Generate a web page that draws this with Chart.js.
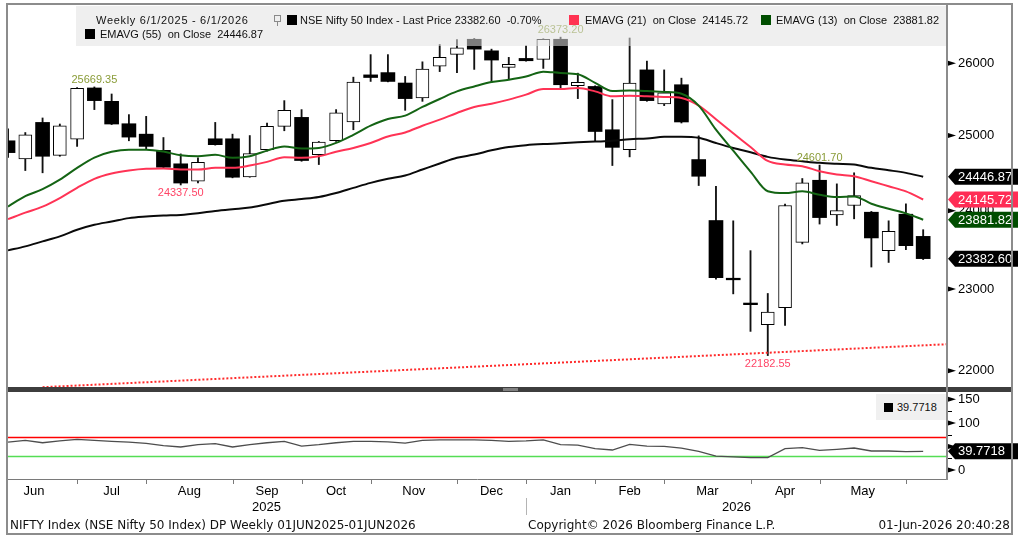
<!DOCTYPE html>
<html>
<head>
<meta charset="utf-8">
<title>NIFTY Index weekly</title>
<script src="https://cdn.jsdelivr.net/npm/chart.js@4.4.1/dist/chart.umd.min.js"></script>
<style>
  html, body { margin: 0; padding: 0; background: #fff; }
  #wrap { position: relative; width: 1023px; height: 537px; overflow: hidden; color: #111;
          font-family: "Liberation Sans", sans-serif; font-size: 11px; }
  #wrap canvas { position: absolute; left: 0; }
  .abs { position: absolute; }
  .txt { position: absolute; white-space: pre; line-height: 12px; }
  .sq { position: absolute; width: 10px; height: 10px; }
  .foot { position: absolute; white-space: pre; line-height: 14px; top: 518px;
          font-family: "DejaVu Sans", sans-serif; font-size: 12px; color: #111; }
</style>
</head>
<body>
<div id="wrap">
  <canvas id="priceChart" width="1023" height="387" style="top:0"></canvas>
  <canvas id="rsiChart" width="1023" height="145" style="top:392px"></canvas>

  <!-- legend of the price panel -->
  <div class="abs" style="left:76px;top:6px;width:871px;height:40px;background:rgba(226,226,226,0.55)"></div>
  <span class="txt" style="left:96px;top:14px;letter-spacing:0.7px">Weekly 6/1/2025 - 6/1/2026</span>
  <span class="abs" style="left:274px;top:15px;width:5px;height:5px;border:1px solid #8a8a8a"></span>
  <span class="abs" style="left:277px;top:22px;width:1px;height:4px;background:#8a8a8a"></span>
  <span class="sq" style="left:287px;top:15px;background:#000"></span>
  <span class="txt" id="lgPrice" style="left:300px;top:14px"></span>
  <span class="sq" style="left:569px;top:15px;background:#ff3352"></span>
  <span class="txt" id="lg21" style="left:585px;top:14px"></span>
  <span class="sq" style="left:761px;top:15px;background:#004d00"></span>
  <span class="txt" id="lg13" style="left:776px;top:14px"></span>
  <span class="sq" style="left:85px;top:29px;background:#000"></span>
  <span class="txt" id="lg55" style="left:100px;top:28px"></span>

  <!-- legend of the oscillator panel -->
  <div class="abs" style="left:876px;top:394px;width:70px;height:26px;background:#f0f0f0"></div>
  <span class="abs" style="left:884px;top:403px;width:9px;height:9px;background:#000"></span>
  <span class="txt" id="lgRsi" style="left:897px;top:401px"></span>

  <!-- panel frame -->
  <div class="abs" style="left:7px;top:387px;width:1005px;height:5px;background:#3d3d3d"></div>
  <div class="abs" style="left:503px;top:388px;width:15px;height:3px;background:#808080"></div>
  <div class="abs" style="left:946px;top:3px;width:2px;height:477px;background:#8c8c8c"></div>
  <div class="abs" style="left:6px;top:3px;width:1007px;height:532px;border:2px solid #8c8c8c;box-sizing:border-box"></div>

  <span class="foot" style="left:10px">NIFTY Index (NSE Nifty 50 Index) DP Weekly 01JUN2025-01JUN2026</span>
  <span class="foot" style="left:528px">Copyright© 2026 Bloomberg Finance L.P.</span>
  <span class="foot" style="right:13px">01-Jun-2026 20:40:28</span>
</div>

<script>
// Weekly candles, index 0 = first week on screen (early Jun 2025)
const monthNames = ['Jun', 'Jul', 'Aug', 'Sep', 'Oct', 'Nov', 'Dec', 'Jan', 'Feb', 'Mar', 'Apr', 'May'];
const monthStarts = [-1, 4, 8, 13, 17, 21, 26, 30, 34, 38, 43, 47, 52];
const yearNames = ['2025', '2026'];
const yearBreak = 30;

const priceTicks = [22000, 23000, 24000, 25000, 26000];
const rsiTicks = [0, 50, 100, 150];
const rsiMinorTicks = [25, 75, 125];
const rsiLevels = [70, 30];

const opens = [24929, 24685, 25179, 24733, 24952, 25655, 25469, 25161, 25019, 24800,
  24619, 24387, 24956, 24956, 24445, 24809, 25124, 25248, 24743, 24929,
  25185, 25838, 25870, 25724, 25517, 25962, 26127, 26343, 26178, 25944,
  26070, 26056, 26343, 25686, 25676, 25079, 24809, 25908, 25434, 25700,
  24676, 23872, 23135, 22825, 22557, 22768, 23590, 24400, 23945, 24067,
  23980, 23484, 23954, 23667];
const highs = [25092, 25041, 25240, 25157, 25660, 25669.35, 25571, 25286, 25262, 24973,
  24752, 24699, 25179, 25019, 25000, 25171, 25479, 25355, 24920, 25355,
  25806, 26124, 26124, 25816, 26022, 26268, 26338, 26355, 26202, 26085,
  26248, 26350, 26373.20, 25862, 25685, 25493, 26361, 26032, 25908, 25792,
  24996, 24320, 23868, 23484, 22944, 24085, 24423, 24601.70, 24352, 24499,
  23990, 23868, 24089, 23753];
const lows = [24703, 24529, 24499, 24720, 24853, 25355, 25150, 24929, 24819, 24560,
  24337.50, 24365, 24870, 24432, 24440, 24787, 25065, 24653, 24609, 24920,
  25079, 25746, 25740, 25345, 25469, 25884, 25870, 25915, 25732, 25770,
  26030, 25929, 25645, 25507, 24920, 24596, 24712, 25470, 25410, 25171,
  24330, 23122, 22939, 22476, 22182.55, 22549, 23570, 23826, 23808, 23894,
  23276, 23334, 23497, 23371];
const closes = [24769, 25010, 24720, 25134, 25650, 25479, 25157, 24979, 24853, 24573,
  24363, 24640, 24876, 24440, 24756, 25124, 25345, 24663, 24912, 25309,
  25737, 25801, 25746, 25507, 25921, 26085, 26220, 26202, 26047, 25986,
  26037, 26343, 25700, 25732, 25055, 24840, 25724, 25479, 25586, 25185,
  24453, 23142, 23115, 22805, 22712, 24067, 24365, 23910, 24000, 24196,
  23647, 23731, 23548, 23382.60];

const ema13 = [24054, 24190, 24282, 24407, 24565, 24703, 24780, 24809, 24809, 24783,
  24733, 24720, 24739, 24699, 24721, 24796, 24853, 24823, 24832, 24900,
  25010, 25134, 25226, 25272, 25392, 25502, 25607, 25676, 25737, 25769,
  25814, 25883, 25865, 25847, 25727, 25612, 25619, 25612, 25600, 25575,
  25410, 25080, 24795, 24515, 24255, 24230, 24253, 24209, 24179, 24187,
  24090, 24025, 23965, 23881.82];
const ema21 = [23890, 23974, 24053, 24165, 24299, 24419, 24489, 24529, 24552, 24556,
  24543, 24543, 24565, 24565, 24596, 24645, 24707, 24699, 24720, 24780,
  24832, 24899, 24987, 25041, 25134, 25217, 25309, 25392, 25437, 25493,
  25562, 25640, 25640, 25654, 25607, 25538, 25548, 25538, 25530, 25516,
  25410, 25222, 25030, 24845, 24657, 24609, 24587, 24520, 24476, 24453,
  24387, 24320, 24253, 24145.72];
const ema55 = [23488, 23539, 23603, 23667, 23753, 23817, 23859, 23903, 23923, 23936,
  23945, 23967, 23996, 24019, 24040, 24085, 24129, 24152, 24179, 24232,
  24299, 24365, 24419, 24463, 24543, 24623, 24699, 24743, 24800, 24845,
  24870, 24885, 24895, 24908, 24918, 24928, 24950, 24960, 24982, 24985,
  24970, 24899, 24832, 24773, 24712, 24676, 24653, 24632, 24619, 24609,
  24565, 24533, 24498, 24446.87];

const rsi = [59.4, 62.9, 58.0, 62.0, 65.0, 63.0, 61.0, 59.4, 56.6, 51.7,
  49.0, 54.0, 56.0, 49.0, 54.0, 58.0, 61.0, 51.0, 54.0, 58.0,
  61.0, 61.0, 60.0, 57.0, 63.0, 64.0, 64.0, 64.0, 63.0, 61.0,
  62.0, 64.0, 54.0, 53.0, 45.4, 42.6, 54.5, 51.0, 50.3, 46.8,
  39.8, 29.4, 27.9, 26.6, 26.6, 45.4, 47.5, 41.9, 44.0, 46.8,
  40.5, 40.5, 39.1, 39.7718];

const highMarks = [5, 32, 47];
const lowMarks = [10, 44];
const trendLine = [{ x: 2, y: 21805 }, { x: 54.4, y: 22320 }];

// visible window
const xMin = -0.06, xMax = 54.38;
const priceMin = 21807, priceMax = 26838;
const rsiMin = -18.9, rsiMax = 163.5;

const last = a => a[a.length - 1];
const xy = arr => arr.map((v, i) => ({ x: i, y: v }));
const weeks = closes.map((_, i) => i);
const downBodies = weeks.filter(i => closes[i] < opens[i]).map(i => ({ x: i, y: [opens[i], closes[i]] }));
const upBodies = weeks.filter(i => closes[i] >= opens[i]).map(i => ({ x: i, y: [opens[i], closes[i]] }));
const wicks = weeks.map(i => ({ x: i, y: [lows[i], highs[i]] }));

// legend texts
const chg = (last(closes) / closes[closes.length - 2] - 1) * 100;
document.getElementById('lgPrice').textContent =
  'NSE Nifty 50 Index - Last Price ' + last(closes).toFixed(2) + '  ' + chg.toFixed(2) + '%';
document.getElementById('lg21').textContent = 'EMAVG (21)  on Close  ' + last(ema21).toFixed(2);
document.getElementById('lg13').textContent = 'EMAVG (13)  on Close  ' + last(ema13).toFixed(2);
document.getElementById('lg55').textContent = 'EMAVG (55)  on Close  ' + last(ema55).toFixed(2);
document.getElementById('lgRsi').textContent = last(rsi).toFixed(4);

const axisFont = { family: 'Liberation Sans', size: 13 };

// keep the plot area exactly where the layout padding puts it
function fixYAxis(s) {
  s.width = 76;
  s.paddingTop = 0;
  s.paddingBottom = 0;
}

function arrowMark(ctx, x, y) {
  ctx.beginPath();
  ctx.moveTo(x, y - 2.5);
  ctx.lineTo(x + 8, y);
  ctx.lineTo(x, y + 2.5);
  ctx.closePath();
  ctx.fill();
}

function drawTag(ctx, x, y, text, bg) {
  const h = 16;
  ctx.beginPath();
  ctx.moveTo(x, y);
  ctx.lineTo(x + 7, y - h / 2);
  ctx.lineTo(x + 70, y - h / 2);
  ctx.lineTo(x + 70, y + h / 2);
  ctx.lineTo(x + 7, y + h / 2);
  ctx.closePath();
  ctx.fillStyle = bg;
  ctx.fill();
  ctx.fillStyle = '#fff';
  ctx.font = '13px "Liberation Sans"';
  ctx.textAlign = 'left';
  ctx.textBaseline = 'middle';
  ctx.fillText(text, x + 10, y + 0.5);
}

const priceDecor = {
  id: 'priceDecor',
  afterDatasetsDraw(chart) {
    const { ctx, scales: { x, y } } = chart;
    ctx.save();
    ctx.font = '11px "Liberation Sans"';
    ctx.textAlign = 'center';
    ctx.textBaseline = 'middle';
    ctx.fillStyle = '#8a9c38';
    highMarks.forEach(i => ctx.fillText(highs[i].toFixed(2), x.getPixelForValue(i), y.getPixelForValue(highs[i]) - 7));
    ctx.fillStyle = '#ff4466';
    lowMarks.forEach(i => ctx.fillText(lows[i].toFixed(2), x.getPixelForValue(i), y.getPixelForValue(lows[i]) + 8));
    ctx.restore();
  },
  afterDraw(chart) {
    const { ctx, chartArea, scales: { y } } = chart;
    ctx.save();
    ctx.fillStyle = '#000';
    priceTicks.forEach(v => arrowMark(ctx, chartArea.right + 1, y.getPixelForValue(v)));
    const tags = [
      { v: last(ema55), bg: '#000' },
      { v: last(ema21), bg: '#ff2d55' },
      { v: last(ema13), bg: '#004d00' },
      { v: last(closes), bg: '#000' }
    ];
    tags.forEach(t => drawTag(ctx, chartArea.right + 1, y.getPixelForValue(t.v), t.v.toFixed(2), t.bg));
    ctx.restore();
  }
};

const rsiDecor = {
  id: 'rsiDecor',
  beforeDatasetsDraw(chart) {
    const { ctx, chartArea: a, scales: { y } } = chart;
    const colors = ['#ff0000', '#55dd55'];
    ctx.save();
    ctx.setLineDash([]);
    rsiLevels.forEach((lvl, k) => {
      const py = Math.round(y.getPixelForValue(lvl)) + 0.5;
      ctx.strokeStyle = colors[k];
      ctx.lineWidth = 1.5;
      ctx.beginPath();
      ctx.moveTo(a.left, py);
      ctx.lineTo(a.right, py);
      ctx.stroke();
    });
    ctx.restore();
  },
  afterDraw(chart) {
    const { ctx, chartArea: a, scales: { x, y } } = chart;
    ctx.save();
    // month boundary ticks
    ctx.strokeStyle = '#7a7a7a';
    ctx.lineWidth = 1;
    monthStarts.slice(1).forEach(m => {
      const px = Math.round(x.getPixelForValue(m)) + 0.5;
      ctx.beginPath();
      ctx.moveTo(px, a.bottom);
      ctx.lineTo(px, a.bottom + 5);
      ctx.stroke();
    });
    // year separator and year labels
    const yb = Math.round(x.getPixelForValue(yearBreak)) + 0.5;
    ctx.strokeStyle = '#b4b4b4';
    ctx.beginPath();
    ctx.moveTo(yb, a.bottom + 19);
    ctx.lineTo(yb, a.bottom + 36);
    ctx.stroke();
    ctx.fillStyle = '#000';
    ctx.font = '13px "Liberation Sans"';
    ctx.textAlign = 'center';
    ctx.textBaseline = 'middle';
    const spans = [[xMin, yearBreak], [yearBreak, xMax]];
    yearNames.forEach((yn, k) => {
      const mid = (spans[k][0] + spans[k][1]) / 2;
      ctx.fillText(yn, x.getPixelForValue(mid), a.bottom + 28);
    });
    // right axis marks
    rsiTicks.forEach(v => arrowMark(ctx, a.right + 1, y.getPixelForValue(v)));
    ctx.strokeStyle = '#000';
    rsiMinorTicks.forEach(v => {
      const py = Math.round(y.getPixelForValue(v)) + 0.5;
      ctx.beginPath();
      ctx.moveTo(a.right + 1, py);
      ctx.lineTo(a.right + 5, py);
      ctx.stroke();
    });
    drawTag(ctx, a.right + 1, y.getPixelForValue(last(rsi)), last(rsi).toFixed(4), '#000');
    ctx.restore();
  }
};

const lineStyle = { pointRadius: 0, borderWidth: 2, cubicInterpolationMode: 'monotone' };

new Chart(document.getElementById('priceChart'), {
  type: 'bar',
  data: {
    datasets: [
      { type: 'line', label: 'EMAVG (13)', data: xy(ema13), borderColor: '#146414', ...lineStyle, order: 0 },
      { type: 'line', label: 'EMAVG (21)', data: xy(ema21), borderColor: '#ff3355', ...lineStyle, order: 1 },
      { type: 'line', label: 'EMAVG (55)', data: xy(ema55), borderColor: '#0a0a0a', ...lineStyle, order: 2 },
      { type: 'line', label: 'Trend', data: trendLine, borderColor: '#ff2a2a', borderWidth: 2,
        borderDash: [2, 2], pointRadius: 0, order: 3 },
      { label: 'Down', data: downBodies, backgroundColor: '#000', borderWidth: 0,
        barThickness: 14, grouped: false, order: 4 },
      { label: 'Up', data: upBodies, backgroundColor: '#fff', borderColor: '#000', borderWidth: 1,
        borderSkipped: false, barThickness: 13, grouped: false, order: 4 },
      { label: 'Range', data: wicks, backgroundColor: '#111', barThickness: 1.2, grouped: false, order: 6 }
    ]
  },
  options: {
    responsive: false,
    animation: false,
    events: [],
    layout: { padding: { left: 7, top: 5, right: 0, bottom: 0 } },
    plugins: { legend: { display: false }, tooltip: { enabled: false } },
    scales: {
      x: { type: 'linear', min: xMin, max: xMax, offset: false, display: false },
      y: {
        type: 'logarithmic', position: 'right', min: priceMin, max: priceMax,
        afterBuildTicks: s => { s.ticks = priceTicks.map(v => ({ value: v })); },
        afterFit: fixYAxis,
        grid: { display: false, drawTicks: false },
        border: { display: false },
        ticks: { padding: 11, color: '#000', font: axisFont, callback: v => String(v) }
      }
    }
  },
  plugins: [priceDecor]
});

new Chart(document.getElementById('rsiChart'), {
  type: 'line',
  data: {
    datasets: [
      { label: 'RSI', data: xy(rsi), borderColor: '#4d4d4d', borderWidth: 1.3, pointRadius: 0, tension: 0 }
    ]
  },
  options: {
    responsive: false,
    animation: false,
    events: [],
    layout: { padding: { left: 7, top: 1, right: 0, bottom: 0 } },
    plugins: { legend: { display: false }, tooltip: { enabled: false } },
    scales: {
      x: {
        type: 'linear', min: xMin, max: xMax, offset: false,
        afterBuildTicks: s => {
          s.ticks = monthNames.map((_, k) => ({ value: (monthStarts[k] + monthStarts[k + 1]) / 2 }));
        },
        afterFit: s => { s.height = 58; s.paddingLeft = 0; s.paddingRight = 0; },
        grid: { display: false, drawTicks: false },
        border: { display: true, color: '#7a7a7a', width: 1 },
        ticks: { padding: 5, autoSkip: false, maxRotation: 0, color: '#000', font: axisFont,
                 callback: (v, k) => monthNames[k] }
      },
      y: {
        type: 'linear', position: 'right', min: rsiMin, max: rsiMax,
        afterBuildTicks: s => { s.ticks = rsiTicks.map(v => ({ value: v })); },
        afterFit: fixYAxis,
        grid: { display: false, drawTicks: false },
        border: { display: false },
        // the label next to the last-value tag is hidden, as on the terminal
        ticks: { padding: 11, color: '#000', font: axisFont,
                 callback: v => (Math.abs(v - last(rsi)) < 15 ? '' : String(v)) }
      }
    }
  },
  plugins: [rsiDecor]
});
</script>
</body>
</html>
